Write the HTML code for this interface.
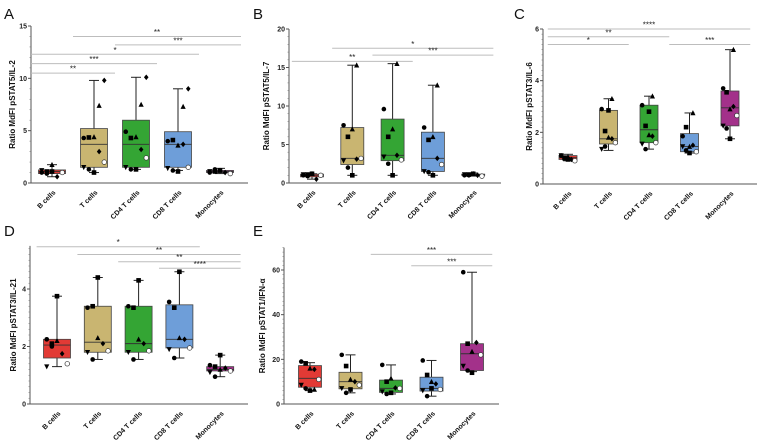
<!DOCTYPE html>
<html><head><meta charset="utf-8"><style>
html,body{margin:0;padding:0;background:#fff;}
svg{display:block;font-family:"Liberation Sans",sans-serif;}
</style></head><body>
<svg id="fig" width="758" height="443" viewBox="0 0 758 443" xmlns="http://www.w3.org/2000/svg"></svg>
<script>
const categories = ["B cells","T cells","CD4 T cells","CD8 T cells","Monocytes"];
const colors = ["#e23a35","#c9b571","#34a534","#6e9ed9","#a3318a"];

// box stats per panel: [min,q1,median,q3,max]
const boxA = [[0.6,0.9,1.1,1.25,1.75],[1.0,1.5,3.7,5.2,9.8],[1.3,1.5,3.7,6.0,10.1],[1.2,1.5,3.7,4.9,9.0],[0.9,1.0,1.1,1.2,1.4]];
const boxB = [[0.5,0.8,1.0,1.15,1.2],[1.0,2.4,3.2,7.2,15.3],[1.0,2.9,3.6,8.3,15.5],[1.0,1.5,3.2,6.6,12.7],[0.9,1.0,1.05,1.15,1.3]];
const boxC = [[0.9,0.95,1.02,1.1,1.15],[1.3,1.55,1.75,2.85,3.3],[1.35,1.6,2.1,3.05,3.4],[1.2,1.25,1.45,1.95,2.75],[1.75,2.25,2.95,3.6,5.2]];
const boxD = [[1.3,1.6,2.05,2.25,3.75],[1.55,1.8,2.15,3.4,4.4],[1.55,1.8,2.1,3.4,4.3],[1.6,1.95,2.25,3.45,4.6],[0.95,1.15,1.2,1.3,1.7]];
const boxE = [[6,7.5,11.5,17.2,18.5],[5,6.8,10,14.2,22],[4.5,5.2,7,10.7,17.5],[3.5,5.8,7,12,19.5],[14.5,15,22.5,27,59]];

// individual points per panel per category
const ptsA = [[1.0,1.1,1.75,0.6,1.0,1.2,0.9,1.1],[4.3,4.35,4.4,3.0,2.0,1.5,1.3,1.0,7.4,9.8],[4.9,4.3,4.4,3.2,2.4,1.5,1.3,1.3,7.5,10.1],[4.0,4.1,3.6,3.7,1.5,1.4,1.2,1.1,7.3,9.0],[1.0,1.1,1.2,1.0,0.9,1.1,1.3,1.2]];
const ptsB = [[1.0,1.1,1.2,0.5,1.0,1.1,0.9,1.2],[7.5,6.0,7.0,3.1,3.2,2.9,2.0,1.0,15.3],[9.6,6.0,7.0,3.6,3.0,3.4,2.5,1.0,15.5],[7.2,5.6,6.0,3.2,2.4,1.5,1.4,1.0,12.7],[1.0,1.1,1.2,1.0,0.9,1.1,1.0,1.2]];
const ptsC = [[1.1,1.0,1.05,0.95,0.9,1.1,1.0,0.95],[2.9,2.05,1.8,1.75,1.6,1.35,1.45,2.85,3.3],[3.05,2.25,1.9,1.85,1.6,1.55,1.35,2.8,3.4],[1.85,2.2,1.45,1.5,1.25,1.45,1.3,1.2,2.75],[3.7,3.55,2.9,3.0,2.65,2.25,2.15,1.75,5.2]];
const ptsD = [[2.25,2.1,2.2,1.75,1.4,1.3,2.0,3.75],[3.35,3.4,2.3,2.1,1.85,1.8,1.55,4.4],[3.4,3.35,2.25,2.1,1.85,1.8,1.55,4.3],[3.55,3.35,2.3,2.25,1.95,1.9,1.6,4.6],[1.35,1.3,1.2,1.25,1.15,1.1,0.95,1.7]];
const ptsE = [[19,18.2,16,15.5,11,8.5,7,6,6.5],[22,17,11,10,8.5,7,5,6.5],[17.5,10,11.5,7.2,7,5.5,4.5,5],[19.5,13,10,9,6.5,6,3.5,7],[59,27,23.5,27.5,22,17,15,14]];

// significance bars: [fromCat, toCat, value, label]
const sigA = [[1,4,14.0,"**"],[2,4,13.2,"***"],[0,3,12.3,"*"],[0,2,11.4,"***"],[0,1,10.5,"**"]];
const sigB = [[1,4,17.5,"*"],[2,4,16.6,"***"],[0,2,15.8,"**"]];
const sigC = [[0,4,6.0,"****"],[0,2,5.7,"**"],[0,1,5.4,"*"],[3,4,5.4,"***"]];
const sigD = [[0,3,5.47,"*"],[1,4,5.2,"**"],[2,4,4.95,"**"],[3,4,4.72,"****"]];
const sigE = [[2,4,67,"***"],[3,4,61.9,"***"]];

const ticksA=[0,5,10,15], ticksB=[0,5,10,15,20], ticksC=[0,2,4,6], ticksD=[0,2,4], ticksE=[0,20,40,60];

const NS="http://www.w3.org/2000/svg";
const svg=document.getElementById('fig');
function mk(tag,attrs,parent){const e=document.createElementNS(NS,tag);for(const k in attrs)e.setAttribute(k,attrs[k]);(parent||svg).appendChild(e);return e;}

const panels=[
 {id:"a",letter:"A",lx:4,ly:19,ax:31,x0:52,dx:42,axEnd:248,y0:183,ymax:15,ytop:15,yPx:157,bw:27,title:"Ratio MdFI pSTAT5/IL-2",tx:15,box:boxA,pts:ptsA,sig:sigA,ticks:ticksA,minor:1},
 {id:"b",letter:"B",lx:253,ly:19,ax:289,x0:312,dx:40.3,axEnd:501,y0:183,ymax:20,ytop:20,yPx:154,bw:23,title:"Ratio MdFI pSTAT5/IL-7",tx:269,box:boxB,pts:ptsB,sig:sigB,ticks:ticksB,minor:1},
 {id:"c",letter:"C",lx:514,ly:19,ax:543,x0:568,dx:40.5,axEnd:757,y0:184,ymax:6,ytop:6,yPx:155,bw:18,title:"Ratio MdFI pSTAT3/IL-6",tx:532,box:boxC,pts:ptsC,sig:sigC,ticks:ticksC,minor:0.2},
 {id:"d",letter:"D",lx:4,ly:236,ax:30,x0:57,dx:40.8,axEnd:248,y0:404,ymax:4,ytop:5.5,yPx:115,bw:27,title:"Ratio MdFI pSTAT3/IL-21",tx:16,box:boxD,pts:ptsD,sig:sigD,ticks:ticksD,minor:0.2},
 {id:"e",letter:"E",lx:253,ly:236,ax:284,x0:310,dx:40.5,axEnd:499,y0:404,ymax:60,ytop:70,yPx:134,bw:23,title:"Ratio MdFI pSTAT1/IFN-\u03b1",tx:265,box:boxE,pts:ptsE,sig:sigE,ticks:ticksE,minor:2}
];

function marker(g,type,x,y){
  const s=2.3;
  let e;
  if(type===0) e=mk('circle',{cx:x,cy:y,r:s,fill:'#000'},g);
  else if(type===1) e=mk('rect',{x:x-s,y:y-s,width:2*s,height:2*s,fill:'#000'},g);
  else if(type===2) e=mk('polygon',{points:`${x},${y-s-0.5} ${x+s+0.3},${y+s} ${x-s-0.3},${y+s}`,fill:'#000'},g);
  else if(type===3) e=mk('polygon',{points:`${x},${y-s-0.5} ${x+s},${y} ${x},${y+s+0.5} ${x-s},${y}`,fill:'#000'},g);
  else if(type===4) e=mk('circle',{cx:x,cy:y,r:s,fill:'#fff',stroke:'#333','stroke-width':0.7},g);
  else e=mk('polygon',{points:`${x},${y+s+0.5} ${x+s+0.3},${y-s} ${x-s-0.3},${y-s}`,fill:'#000'},g);
  
  
}

panels.forEach(p=>{
  const g=mk('g',{});
  
  
  const ys=v=>p.y0-v*(p.yPx/p.ymax);
  const xs=i=>p.x0+i*p.dx;
  const L=mk('text',{x:p.lx,y:p.ly,'font-size':15,fill:'#111'},g);L.textContent=p.letter;
  
  const yt=ys(p.ytop);
  const ya=mk('line',{x1:p.ax,y1:yt,x2:p.ax,y2:p.y0,stroke:'#555','stroke-width':1},g);
  
  for(let v=0;v<=p.ytop+1e-9;v+=p.minor){mk('line',{x1:p.ax-1.5,y1:ys(v),x2:p.ax,y2:ys(v),stroke:'#777','stroke-width':0.6},g);}
  p.ticks.forEach(t=>{
    mk('line',{x1:p.ax-3,y1:ys(t),x2:p.ax,y2:ys(t),stroke:'#555','stroke-width':1},g);
    const tl=mk('text',{x:p.ax-4,y:ys(t)+2.5,'font-size':7,'font-weight':'bold','text-anchor':'end',fill:'#222'},g);
    tl.textContent=t;
  });
  const xa=mk('line',{x1:p.ax,y1:p.y0,x2:p.axEnd,y2:p.y0,stroke:'#555','stroke-width':1},g);
  
  const ttl=mk('text',{x:p.tx,y:(yt+p.y0)/2,'font-size':8,'font-weight':'bold','text-anchor':'middle',fill:'#111',transform:`rotate(-90 ${p.tx} ${(yt+p.y0)/2})`},g);
  ttl.textContent=p.title;
  p.sig.forEach(s=>{
    const y=ys(s[2]);
    const ln=mk('line',{x1:xs(s[0])-p.dx/2,y1:y,x2:xs(s[1])+p.dx/2,y2:y,stroke:'#bdbdbd','stroke-width':1},g);
    
    const st=mk('text',{x:(xs(s[0])+xs(s[1]))/2,y:y-1.5,'font-size':8,'text-anchor':'middle',fill:'#222'},g);
    st.textContent=s[3];
  });
  categories.forEach((c,i)=>{
    const b=p.box[i],x=xs(i),hw=p.bw/2;
    const bg=mk('g',{},g);
    
    
    mk('line',{x1:x,y1:ys(b[0]),x2:x,y2:ys(b[4]),stroke:'#222','stroke-width':1},bg);
    mk('line',{x1:x-5,y1:ys(b[0]),x2:x+5,y2:ys(b[0]),stroke:'#222','stroke-width':1},bg);
    mk('line',{x1:x-5,y1:ys(b[4]),x2:x+5,y2:ys(b[4]),stroke:'#222','stroke-width':1},bg);
    mk('rect',{x:x-hw,y:ys(b[3]),width:p.bw,height:Math.max(1,ys(b[1])-ys(b[3])),fill:colors[i],stroke:'#444','stroke-width':0.8},bg);
    mk('line',{x1:x-hw,y1:ys(b[2]),x2:x+hw,y2:ys(b[2]),stroke:'#333','stroke-width':0.9},bg);
    p.pts[i].forEach((v,k)=>{
      const off=((k%5)-2)*(hw*0.38);
      marker(bg,k%6,x+off,ys(v));
    });
    const cl=mk('text',{x:x+4,y:p.y0+10,'font-size':7,'font-weight':'bold','text-anchor':'end',fill:'#111',transform:`rotate(-45 ${x+4} ${p.y0+10})`},g);
    cl.textContent=c;
  });
});
</script>
</body></html>
